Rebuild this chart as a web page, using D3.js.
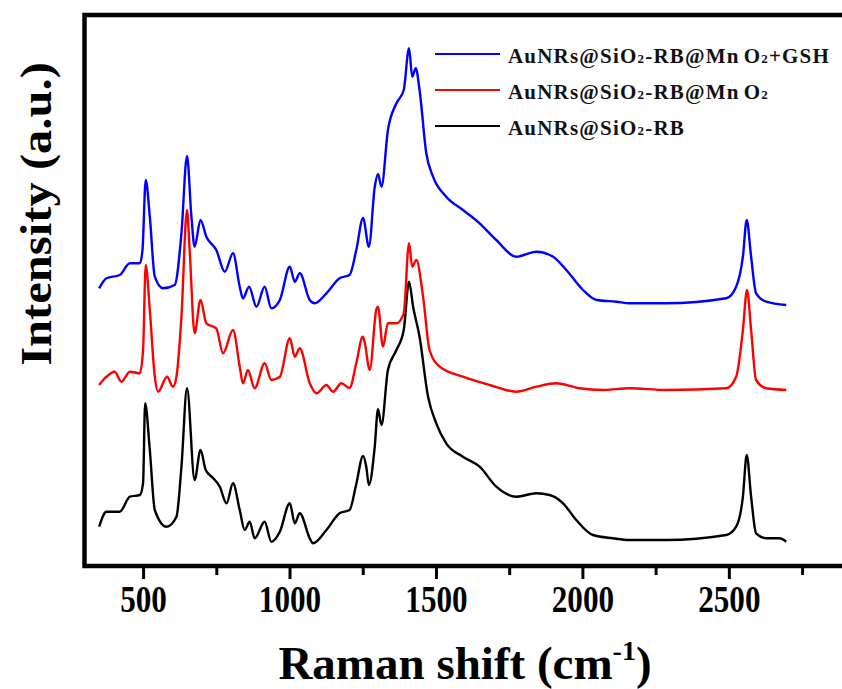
<!DOCTYPE html>
<html>
<head>
<meta charset="utf-8">
<script src="https://cdn.jsdelivr.net/npm/d3@7"></script>
<style>
    body { margin: 0; background: #fff; }
    text { font-family: "Liberation Serif", "Times New Roman", serif; font-weight: bold; }
</style>
</head>
<body>
<div id="demo"></div>
<script>

// wavenumbers (cm-1) and intensities
let blackX = [350, 375, 420, 455, 489, 500, 507, 523, 540, 580, 614, 631, 650, 676, 696, 714, 739, 762, 785, 807, 830, 847, 864, 881, 915, 938, 967, 1001, 1018, 1035, 1069, 1080, 1126, 1171, 1205, 1228, 1251, 1262, 1271, 1291, 1302, 1314, 1336, 1365, 1390, 1408, 1422, 1444, 1473, 1501, 1535, 1592, 1649, 1706, 1774, 1843, 1888, 1934, 1979, 2036, 2104, 2161, 2286, 2491, 2525, 2548, 2561, 2576, 2593, 2628, 2673, 2696];
let blackY = [393, 543, 543, 693, 710, 830, 1627, 1160, 560, 393, 493, 993, 1777, 860, 1160, 960, 880, 793, 627, 827, 560, 360, 443, 277, 443, 243, 343, 627, 427, 527, 277, 227, 360, 527, 560, 820, 1100, 993, 810, 1193, 1567, 1410, 1960, 2160, 2360, 2843, 2593, 2293, 1693, 1427, 1227, 1093, 993, 793, 693, 727, 710, 627, 460, 310, 277, 260, 260, 310, 393, 693, 1110, 693, 327, 277, 277, 243];

let redX = [350, 375, 403, 426, 455, 489, 500, 509, 523, 540, 551, 582, 602, 614, 631, 650, 659, 676, 696, 716, 750, 773, 807, 830, 841, 858, 881, 915, 938, 967, 1001, 1018, 1035, 1069, 1092, 1126, 1149, 1177, 1205, 1228, 1250, 1256, 1274, 1296, 1302, 1319, 1336, 1365, 1390, 1408, 1419, 1433, 1456, 1478, 1513, 1592, 1683, 1774, 1843, 1911, 1990, 2070, 2161, 2286, 2491, 2525, 2548, 2562, 2576, 2593, 2628, 2696];
let redY = [1810, 1893, 1943, 1843, 1943, 1927, 2160, 3010, 2560, 1893, 1743, 1893, 1793, 1893, 2493, 3560, 3160, 2327, 2660, 2427, 2377, 2127, 2360, 1993, 1827, 1960, 1777, 2027, 1860, 1893, 2277, 2093, 2177, 1827, 1727, 1810, 1743, 1827, 1780, 2027, 2293, 2243, 1960, 2560, 2593, 2193, 2427, 2427, 2527, 3227, 2993, 3060, 2693, 2160, 1993, 1893, 1810, 1743, 1793, 1827, 1777, 1760, 1777, 1760, 1777, 1893, 2360, 2760, 2360, 1860, 1777, 1760];

let blueX = [350, 375, 420, 455, 489, 498, 509, 523, 540, 568, 608, 631, 650, 665, 676, 696, 716, 750, 779, 807, 830, 841, 862, 887, 915, 938, 967, 1001, 1018, 1035, 1069, 1086, 1126, 1171, 1205, 1228, 1251, 1271, 1291, 1302, 1314, 1336, 1365, 1390, 1408, 1419, 1431, 1444, 1467, 1490, 1535, 1592, 1649, 1706, 1774, 1843, 1900, 1945, 2002, 2048, 2116, 2161, 2286, 2491, 2525, 2548, 2561, 2576, 2593, 2628, 2696];
let blueY = [2777, 2877, 2910, 3027, 3027, 3160, 3860, 3493, 2893, 2777, 2810, 3327, 4100, 3493, 3193, 3460, 3293, 3160, 2943, 3127, 2793, 2677, 2793, 2593, 2793, 2577, 2660, 2993, 2843, 2927, 2660, 2627, 2727, 2877, 2910, 3160, 3480, 3193, 3790, 3920, 3793, 4360, 4627, 4760, 5177, 4893, 4977, 4760, 4127, 3893, 3693, 3560, 3427, 3260, 3093, 3143, 3093, 2960, 2760, 2660, 2643, 2627, 2627, 2677, 2793, 3093, 3460, 3093, 2727, 2643, 2610];

let seriesNames = ["AuNRs@SiO2-RB@MnO2+GSH", "AuNRs@SiO2-RB@MnO2", "AuNRs@SiO2-RB"];
let seriesColors = ["#0000ff", "#ff0000", "#000000"];
let majorTicks = [500, 1000, 1500, 2000, 2500];
let minorTicks = [750, 1250, 1750, 2250, 2750];

let w = 842;
let h = 689;
let m = {top: 15, right: -4, bottom: 123, left: 84.5};

let svg = d3.select("#demo")
    .append("svg")
    .attr("width", w)
    .attr("height", h);

let x = d3.scaleLinear()
    .domain([300, 2900])
    .range([m.left, w - m.right]);

let y = d3.scaleLinear()
    .domain([0, 5510])
    .range([h - m.bottom, m.top]);

let line = d3.line()
    .curve(d3.curveMonotoneX)
    .x((d) => x(d[0]))
    .y((d) => y(d[1]));

let series = [
    d3.zip(blueX, blueY),
    d3.zip(redX, redY),
    d3.zip(blackX, blackY)
];

// draw the spectra, black first so blue/red sit on top like the original
[2, 1, 0].forEach((i) => {
    svg.append("path")
        .datum(series[i])
        .attr("fill", "none")
        .attr("stroke", seriesColors[i])
        .attr("stroke-width", 2.4)
        .attr("stroke-linejoin", "round")
        .attr("d", line);
});

// frame (right side runs off the picture)
svg.append("rect")
    .attr("x", x.range()[0])
    .attr("y", y.range()[1])
    .attr("width", x.range()[1] - x.range()[0])
    .attr("height", y.range()[0] - y.range()[1])
    .attr("fill", "none")
    .attr("stroke", "#000")
    .attr("stroke-width", 4.5);

// bottom axis, major and minor ticks pointing out
let gx = svg.append("g")
    .attr("transform", `translate(0,${y.range()[0] + 2})`)
    .call(d3.axisBottom(x).tickValues(majorTicks).tickSize(11).tickSizeOuter(0).tickFormat(d3.format("d")));

gx.select(".domain").remove();
gx.selectAll(".tick line").attr("stroke-width", 3);
gx.selectAll(".tick text")
    .attr("font-size", 38)
    .attr("y", 17)
    .attr("transform", "scale(0.82,1)")
    .attr("fill", "#000");

let gm = svg.append("g")
    .attr("transform", `translate(0,${y.range()[0] + 2})`)
    .call(d3.axisBottom(x).tickValues(minorTicks).tickSize(7).tickSizeOuter(0).tickFormat(""));

gm.select(".domain").remove();
gm.selectAll(".tick line").attr("stroke-width", 3);

// axis titles
let xt = svg.append("text")
    .attr("x", 465)
    .attr("y", 679)
    .attr("text-anchor", "middle")
    .attr("font-size", 47);
xt.append("tspan").text("Raman shift (cm");
xt.append("tspan").attr("font-size", 28).attr("dy", -19).text("-1");
xt.append("tspan").attr("dy", 19).text(")");

svg.append("text")
    .attr("transform", "translate(51,214) rotate(-90) scale(1.08,1)")
    .attr("text-anchor", "middle")
    .attr("font-size", 45)
    .text("Intensity (a.u.)");

// legend
let legend = svg.append("g");

seriesNames.forEach((name, i) => {

    let ly = 54 + i * 36;

    legend.append("line")
        .attr("x1", 435)
        .attr("x2", 500)
        .attr("y1", ly)
        .attr("y2", ly)
        .attr("stroke", seriesColors[i])
        .attr("stroke-width", 2);

    let t = legend.append("text")
        .attr("x", 508)
        .attr("y", ly + 9)
        .attr("font-size", 21)
        .attr("letter-spacing", 1.2)
        .attr("fill", "#111");

    // split on the "2" so it can be drawn small like a subscript
    name.split("2").forEach((part, k, arr) => {
        // small gap between Mn and O, as in the original
        part.split("MnO").forEach((p, j) => {
            if (j > 0) {
                t.append("tspan").text("Mn");
                t.append("tspan").attr("dx", 4).text("O" + p);
            } else {
                t.append("tspan").text(p);
            }
        });
        if (k < arr.length - 1) {
            t.append("tspan").attr("font-size", 13).text("2");
        }
    });

});

</script>
</body>
</html>
